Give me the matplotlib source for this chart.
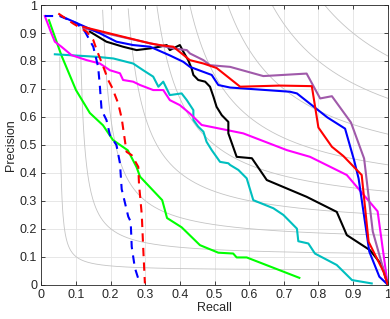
import numpy as np
import matplotlib
matplotlib.use("Agg")
import matplotlib.pyplot as plt

plt.rcParams['font.family'] = ['Liberation Sans', 'DejaVu Sans']

# ---- data ----
green_r = [0.022, 0.058, 0.10, 0.14, 0.178, 0.207, 0.25, 0.275, 0.285, 0.349, 0.363, 0.405, 0.458, 0.511, 0.554, 0.564, 0.593, 0.745]
green_p = [0.946, 0.82, 0.696, 0.614, 0.57, 0.517, 0.48, 0.42, 0.386, 0.302, 0.238, 0.205, 0.141, 0.114, 0.111, 0.097, 0.097, 0.024]

magenta_r = [0.010, 0.029, 0.039, 0.058, 0.087, 0.131, 0.169, 0.198, 0.227, 0.236, 0.265, 0.285, 0.323, 0.352, 0.371, 0.400, 0.429, 0.463, 0.583, 0.709, 0.776, 0.882, 0.971, 1.0]
magenta_p = [0.961, 0.899, 0.869, 0.851, 0.821, 0.803, 0.791, 0.767, 0.756, 0.732, 0.726, 0.714, 0.696, 0.696, 0.66, 0.642, 0.612, 0.571, 0.541, 0.481, 0.457, 0.392, 0.262, 0.0]

cyan_r = [0.039, 0.160, 0.208, 0.265, 0.294, 0.323, 0.338, 0.352, 0.371, 0.405, 0.420, 0.439, 0.439, 0.453, 0.468, 0.477, 0.492, 0.516, 0.540, 0.545, 0.569, 0.593, 0.612, 0.670, 0.699, 0.738, 0.742, 0.771, 0.790, 0.853, 0.897, 0.954]
cyan_p = [0.824, 0.815, 0.809, 0.791, 0.767, 0.744, 0.708, 0.726, 0.678, 0.684, 0.66, 0.624, 0.589, 0.565, 0.547, 0.511, 0.481, 0.439, 0.434, 0.428, 0.41, 0.38, 0.302, 0.273, 0.249, 0.200, 0.155, 0.147, 0.111, 0.070, 0.016, 0.004]

black_r = [0.140, 0.188, 0.236, 0.275, 0.314, 0.342, 0.362, 0.371, 0.400, 0.410, 0.424, 0.434, 0.439, 0.453, 0.473, 0.487, 0.497, 0.506, 0.521, 0.540, 0.540, 0.564, 0.608, 0.651, 0.766, 0.853, 0.882, 0.949, 0.983, 1.0]
black_p = [0.905, 0.869, 0.851, 0.839, 0.845, 0.851, 0.857, 0.839, 0.857, 0.833, 0.803, 0.773, 0.75, 0.732, 0.726, 0.708, 0.672, 0.636, 0.606, 0.582, 0.541, 0.457, 0.452, 0.374, 0.314, 0.260, 0.177, 0.123, 0.070, 0.0]

red_r = [0.121, 0.314, 0.342, 0.381, 0.429, 0.468, 0.506, 0.574, 0.689, 0.781, 0.800, 0.839, 0.872, 0.925, 0.945, 0.988, 1.0]
red_p = [0.922, 0.863, 0.857, 0.851, 0.803, 0.791, 0.775, 0.708, 0.712, 0.710, 0.562, 0.493, 0.460, 0.392, 0.153, 0.046, 0.0]

purple_r = [0.121, 0.294, 0.381, 0.420, 0.429, 0.468, 0.487, 0.545, 0.641, 0.766, 0.805, 0.839, 0.894, 0.932, 0.957, 1.0]
purple_p = [0.917, 0.869, 0.845, 0.839, 0.827, 0.803, 0.785, 0.779, 0.746, 0.755, 0.666, 0.674, 0.580, 0.451, 0.190, 0.0]

blue_r = [0.058, 0.169, 0.217, 0.265, 0.314, 0.371, 0.410, 0.429, 0.468, 0.492, 0.511, 0.545, 0.718, 0.738, 0.826, 0.877, 0.903, 0.916, 0.947, 0.976, 1.0]
blue_p = [0.960, 0.899, 0.869, 0.857, 0.851, 0.82, 0.797, 0.779, 0.761, 0.750, 0.714, 0.705, 0.690, 0.684, 0.598, 0.558, 0.445, 0.380, 0.118, 0.028, 0.0]

bluedash_r = [0.010, 0.053, 0.102, 0.126, 0.150, 0.164, 0.169, 0.174, 0.188, 0.198, 0.217, 0.227, 0.232, 0.235, 0.251, 0.258, 0.261, 0.270, 0.284]
bluedash_p = [0.961, 0.961, 0.935, 0.905, 0.851, 0.779, 0.710, 0.624, 0.589, 0.535, 0.499, 0.434, 0.341, 0.326, 0.243, 0.225, 0.135, 0.060, 0.005]

reddash_r = [0.049, 0.092, 0.131, 0.150, 0.160, 0.179, 0.193, 0.208, 0.212, 0.222, 0.232, 0.246, 0.261, 0.280, 0.282, 0.290, 0.294, 0.299]
reddash_p = [0.970, 0.934, 0.905, 0.875, 0.839, 0.779, 0.732, 0.696, 0.680, 0.648, 0.595, 0.475, 0.463, 0.421, 0.360, 0.250, 0.135, 0.004]

iso_f = [0.1, 0.2, 0.3, 0.4, 0.5, 0.6, 0.7, 0.8, 0.9]
ticks = [0, 0.1, 0.2, 0.3, 0.4, 0.5, 0.6, 0.7, 0.8, 0.9, 1]
tick_labels = ['0', '0.1', '0.2', '0.3', '0.4', '0.5', '0.6', '0.7', '0.8', '0.9', '1']

# ---- figure ----
fig = plt.figure(figsize=(3.9, 3.19), dpi=100)
ax = fig.add_axes([0.106, 0.108, 0.888, 0.876])

# iso-F contours
for f in iso_f:
    r = np.linspace(f / 2 + 1e-4, 1, 600)
    p = f * r / (2 * r - f)
    m = p <= 1.0
    ax.plot(r[m], p[m], color='#c4c4c4', lw=0.6, zorder=1)

lw = 1.5
ax.plot(green_r, green_p, color='#00ff00', lw=lw, zorder=3)
ax.plot(cyan_r, cyan_p, color='#00bfbf', lw=lw, zorder=3)
ax.plot(magenta_r, magenta_p, color='#ff00ff', lw=lw, zorder=3)
ax.plot(black_r, black_p, color='black', lw=lw, zorder=3)
ax.plot(purple_r, purple_p, color='#a05aaa', lw=lw, zorder=4)
ax.plot(blue_r, blue_p, color='#0000ff', lw=lw, zorder=5)
ax.plot(red_r, red_p, color='#ff0000', lw=lw, zorder=6)
ax.plot(bluedash_r, bluedash_p, color='#0000ff', lw=lw, ls=(0, (4, 3)), zorder=6)
ax.plot(reddash_r, reddash_p, color='#ff0000', lw=lw, ls=(0, (4, 3)), zorder=6)

ax.set_xlim(0, 1)
ax.set_ylim(0, 1)
ax.set_xticks(ticks)
ax.set_xticklabels(tick_labels)
ax.set_yticks(ticks)
ax.set_yticklabels(tick_labels)
ax.grid(True, color='#e3e3e3', lw=0.6, zorder=0)
ax.set_axisbelow(True)
ax.tick_params(direction='in', length=3, width=0.6, colors='#262626',
               labelsize=9, top=True, right=True, pad=3)
for s in ax.spines.values():
    s.set_color('#262626')
    s.set_linewidth(0.6)
ax.set_xlabel('Recall', fontsize=9, color='#262626', labelpad=1)
ax.set_ylabel('Precision', fontsize=9, color='#262626', labelpad=2)

fig.savefig('out.png', dpi=100)
